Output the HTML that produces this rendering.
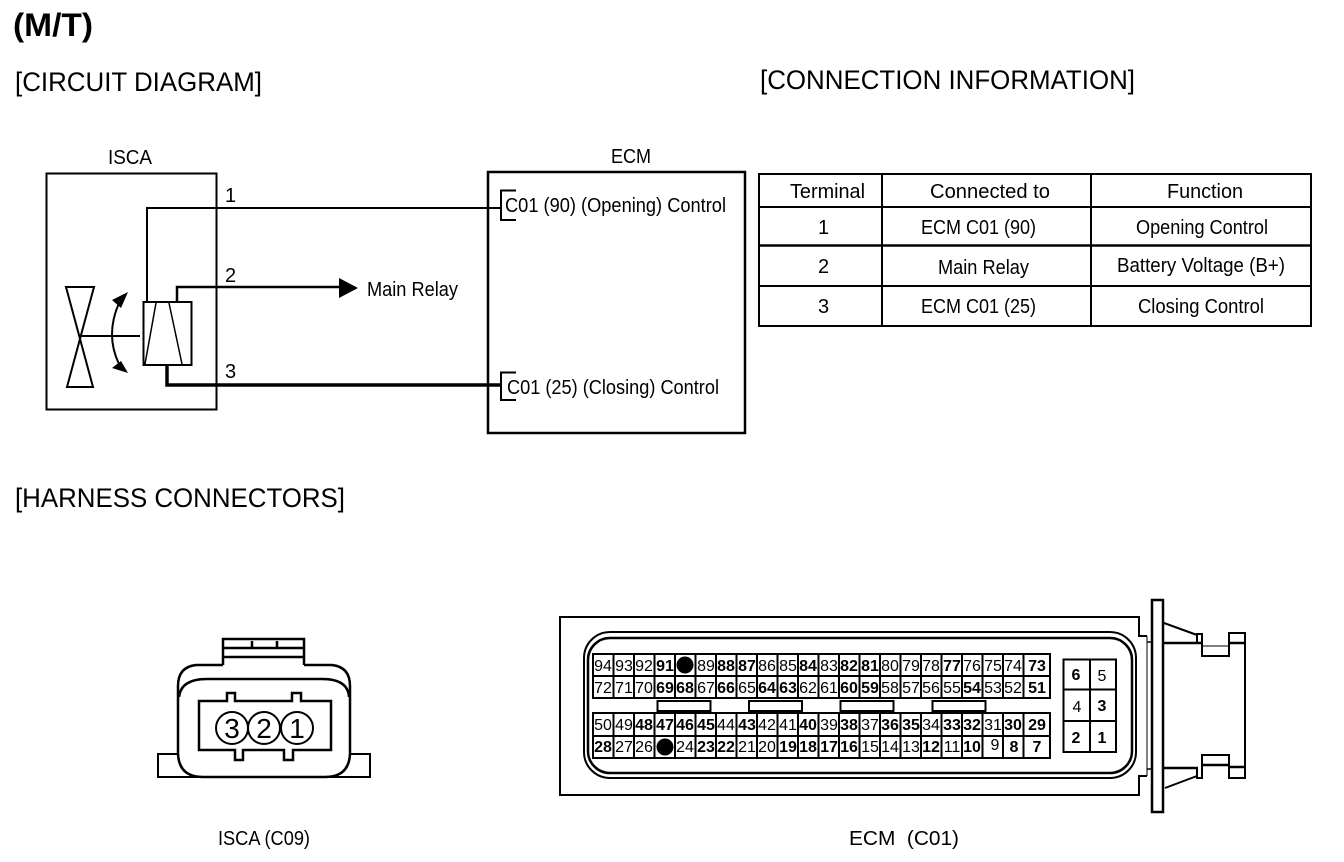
<!DOCTYPE html>
<html><head><meta charset="utf-8"><style>
html,body{margin:0;padding:0;background:#fff}
svg{display:block}
text{font-family:"Liberation Sans",sans-serif;fill:#000}
.g text{font-size:16px;text-anchor:middle}
.b{font-weight:bold}
</style></head><body>
<svg width="1344" height="862" viewBox="0 0 1344 862" xmlns="http://www.w3.org/2000/svg">
<rect width="1344" height="862" fill="#fff"/>
<text x="13" y="36" font-size="32" font-weight="bold" textLength="80" lengthAdjust="spacingAndGlyphs">(M/T)</text>
<text x="15" y="91" font-size="27" textLength="247" lengthAdjust="spacingAndGlyphs">[CIRCUIT DIAGRAM]</text>
<text x="760" y="89" font-size="27" textLength="375" lengthAdjust="spacingAndGlyphs">[CONNECTION INFORMATION]</text>
<text x="15" y="507" font-size="27" textLength="330" lengthAdjust="spacingAndGlyphs">[HARNESS CONNECTORS]</text>

<!-- circuit -->
<g fill="none" stroke="#000">
<rect x="46.5" y="173.5" width="170" height="236" stroke-width="2"/>
<path d="M147 302V208H500" stroke-width="2"/>
<path d="M177 302V287H342" stroke-width="2.5"/>
<path d="M167 365V385H500" stroke-width="3.5" />
<rect x="143.500" y="302" width="48" height="63" stroke-width="2"/>
<path d="M156 303L145 364M169 303L182 364" stroke-width="1.5"/>
<path d="M66 287H94L67 387H93L66 287Z" stroke-width="2"/>
<path d="M80 336H140" stroke-width="2"/>
<path d="M119 303Q105 335 119 364" stroke-width="2"/>
<rect x="488" y="172" width="257" height="261" stroke-width="2.5"/>
<path d="M516 190.500H501V220H516M516 372.500H501V400H516" stroke-width="2"/>
</g>
<path d="M128 292L112 300L121 308Z"/>
<path d="M339 278L358 288L339 298Z"/>
<path d="M128 373L112 368L121 361Z"/>
<g font-size="20">
<text x="108" y="164" textLength="44" lengthAdjust="spacingAndGlyphs">ISCA</text>
<text x="611" y="163" textLength="40" lengthAdjust="spacingAndGlyphs">ECM</text>
<text x="225" y="202">1</text>
<text x="225" y="282">2</text>
<text x="225" y="378">3</text>
<text x="367" y="296" textLength="91" lengthAdjust="spacingAndGlyphs">Main Relay</text>
<text x="505" y="212" textLength="221" lengthAdjust="spacingAndGlyphs">C01 (90) (Opening) Control</text>
<text x="507" y="394" textLength="212" lengthAdjust="spacingAndGlyphs">C01 (25) (Closing) Control</text>
</g>

<!-- table -->
<g fill="none" stroke="#000" stroke-width="2">
<rect x="759" y="174" width="552" height="152"/>
<path d="M882 174V326M1091 174V326M759 207H1311M759 286H1311"/>
<path d="M759 245.500H1311" stroke-width="2.500"/>
</g>
<g font-size="20">
<text x="790" y="198" textLength="75" lengthAdjust="spacingAndGlyphs">Terminal</text>
<text x="930" y="198" textLength="120" lengthAdjust="spacingAndGlyphs">Connected to</text>
<text x="1167" y="198" textLength="76" lengthAdjust="spacingAndGlyphs">Function</text>
<text x="818" y="234">1</text><text x="818" y="273">2</text><text x="818" y="313">3</text>
<text x="921" y="234" textLength="115" lengthAdjust="spacingAndGlyphs">ECM C01 (90)</text>
<text x="938" y="274" textLength="91" lengthAdjust="spacingAndGlyphs">Main Relay</text>
<text x="921" y="313" textLength="115" lengthAdjust="spacingAndGlyphs">ECM C01 (25)</text>
<text x="1136" y="234" textLength="132" lengthAdjust="spacingAndGlyphs">Opening Control</text>
<text x="1117" y="272" textLength="168" lengthAdjust="spacingAndGlyphs">Battery Voltage (B+)</text>
<text x="1138" y="313" textLength="126" lengthAdjust="spacingAndGlyphs">Closing Control</text>
</g>

<!-- ISCA connector -->
<g fill="none" stroke="#000" stroke-width="2.500">
<path d="M178 754H158V777H370V754H350" stroke-width="2"/>
<path d="M223 665V639H304V665"/>
<path d="M223 648H304M223 657H304"/>
<path d="M252 641V648M277 641V648" stroke-width="2.500"/>
<path d="M223 665H196Q178 667 178 686V752Q178 777 203 777H325Q350 777 350 752V686Q350 667 332 665H304" fill="#fff"/>
<path d="M179 697Q181 679 207 679H322Q348 679 349 697"/>
<path d="M199 701H227V693H235V701H292V693H301V701H331V750H293V760H284V750H243V760H235V750H199Z"/>
<circle cx="232" cy="728" r="16" fill="#fff" stroke-width="2"/>
<circle cx="264" cy="728" r="16" fill="#fff" stroke-width="2"/>
<circle cx="297" cy="728" r="16" fill="#fff" stroke-width="2"/>
</g>
<text x="232" y="738" font-size="28" text-anchor="middle">3</text>
<text x="264" y="738" font-size="28" text-anchor="middle">2</text>
<text x="297" y="738" font-size="28" text-anchor="middle">1</text>
<text x="218" y="845" font-size="20" textLength="92" lengthAdjust="spacingAndGlyphs">ISCA (C09)</text>
<text x="849" y="845" font-size="20" textLength="110" lengthAdjust="spacingAndGlyphs" xml:space="preserve">ECM  (C01)</text>

<!-- ECM connector -->
<g fill="none" stroke="#000">
<path d="M1147 636H1139V617H560V795H1139V776H1147" stroke-width="2"/>
<path d="M1147 636V776" stroke-width="1"/>
<path d="M1147 642H1152M1147 769H1152" stroke-width="1.500"/>
<rect x="584" y="632" width="552" height="146" rx="26" stroke-width="2"/>
<rect x="588" y="638" width="544" height="135" rx="22" stroke-width="2.500"/>
<rect x="1152" y="600" width="11" height="212" stroke-width="2.500"/>
<path d="M1164 623L1197 635M1165 788L1197 776" stroke-width="2"/>
<path d="M1163 643H1202M1229 643H1245M1163 768H1198M1202 765H1229M1229 767H1245" stroke-width="2.500"/>
<path d="M1197 643V634H1202V656H1229V633H1245V778H1229V755H1202V778H1197V769" stroke-width="2"/>
<path d="M1202 646H1229" stroke-width="1"/>
<g stroke-width="2">
<rect x="593" y="654" width="457" height="44"/><rect x="593" y="713" width="457" height="45"/>
<path d="M593 676H1050M593 736H1050"/>
<path d="M613.500 654V698M634 654V698M654.500 654V698M675 654V698M695.500 654V698M716 654V698M736.500 654V698M757 654V698M777.500 654V698M798 654V698M818.500 654V698M839 654V698M859.500 654V698M880 654V698M900.500 654V698M921 654V698M941.500 654V698M962 654V698M982.500 654V698M1003 654V698M1023.500 654V698"/>
<path d="M613.500 713V758M634 713V758M654.500 713V758M675 713V758M695.500 713V758M716 713V758M736.500 713V758M757 713V758M777.500 713V758M798 713V758M818.500 713V758M839 713V758M859.500 713V758M880 713V758M900.500 713V758M921 713V758M941.500 713V758M962 713V758M982.500 713V758M1003 713V758M1023.500 713V758"/>
<rect x="657.500" y="701" width="53" height="10"/><rect x="749" y="701" width="53" height="10"/><rect x="840.500" y="701" width="53" height="10"/><rect x="932.500" y="701" width="53" height="10"/>
<rect x="1063.500" y="659.500" width="52.500" height="92.500"/>
<path d="M1090 659V752M1063 689.500H1116M1063 721H1116"/>
</g>
</g>
<circle cx="685" cy="665" r="8.500"/><circle cx="665" cy="747" r="8.500"/>
<g class="g">
<text x="603" y="671">94</text><text x="624" y="671">93</text><text x="644" y="671">92</text><text x="665" y="671" class="b">91</text><text x="706" y="671">89</text><text x="726" y="671" class="b">88</text><text x="747" y="671" class="b">87</text><text x="767" y="671">86</text><text x="788" y="671">85</text><text x="808" y="671" class="b">84</text><text x="829" y="671">83</text><text x="849" y="671" class="b">82</text><text x="870" y="671" class="b">81</text><text x="890" y="671">80</text><text x="911" y="671">79</text><text x="931" y="671">78</text><text x="952" y="671" class="b">77</text><text x="972" y="671">76</text><text x="993" y="671">75</text><text x="1013" y="671">74</text><text x="1037" y="671" class="b">73</text>
<text x="603" y="693">72</text><text x="624" y="693">71</text><text x="644" y="693">70</text><text x="665" y="693" class="b">69</text><text x="685" y="693" class="b">68</text><text x="706" y="693">67</text><text x="726" y="693" class="b">66</text><text x="747" y="693">65</text><text x="767" y="693" class="b">64</text><text x="788" y="693" class="b">63</text><text x="808" y="693">62</text><text x="829" y="693">61</text><text x="849" y="693" class="b">60</text><text x="870" y="693" class="b">59</text><text x="890" y="693">58</text><text x="911" y="693">57</text><text x="931" y="693">56</text><text x="952" y="693">55</text><text x="972" y="693" class="b">54</text><text x="993" y="693">53</text><text x="1013" y="693">52</text><text x="1037" y="693" class="b">51</text>
<text x="603" y="730">50</text><text x="624" y="730">49</text><text x="644" y="730" class="b">48</text><text x="665" y="730" class="b">47</text><text x="685" y="730" class="b">46</text><text x="706" y="730" class="b">45</text><text x="726" y="730">44</text><text x="747" y="730" class="b">43</text><text x="767" y="730">42</text><text x="788" y="730">41</text><text x="808" y="730" class="b">40</text><text x="829" y="730">39</text><text x="849" y="730" class="b">38</text><text x="870" y="730">37</text><text x="890" y="730" class="b">36</text><text x="911" y="730" class="b">35</text><text x="931" y="730">34</text><text x="952" y="730" class="b">33</text><text x="972" y="730" class="b">32</text><text x="993" y="730">31</text><text x="1013" y="730" class="b">30</text><text x="1037" y="730" class="b">29</text>
<text x="603" y="752" class="b">28</text><text x="624" y="752">27</text><text x="644" y="752">26</text><text x="685" y="752">24</text><text x="706" y="752" class="b">23</text><text x="726" y="752" class="b">22</text><text x="747" y="752">21</text><text x="767" y="752">20</text><text x="788" y="752" class="b">19</text><text x="808" y="752" class="b">18</text><text x="829" y="752" class="b">17</text><text x="849" y="752" class="b">16</text><text x="870" y="752">15</text><text x="890" y="752">14</text><text x="911" y="752">13</text><text x="931" y="752" class="b">12</text><text x="952" y="752">11</text><text x="972" y="752" class="b">10</text><text x="995" y="750">9</text><text x="1014" y="752" class="b">8</text><text x="1037" y="752" class="b">7</text>
<text x="1076" y="680" class="b">6</text><text x="1102" y="681">5</text><text x="1077" y="712">4</text><text x="1102" y="711" class="b">3</text><text x="1076" y="743" class="b">2</text><text x="1102" y="743" class="b">1</text>
</g>
</svg>
</body></html>
